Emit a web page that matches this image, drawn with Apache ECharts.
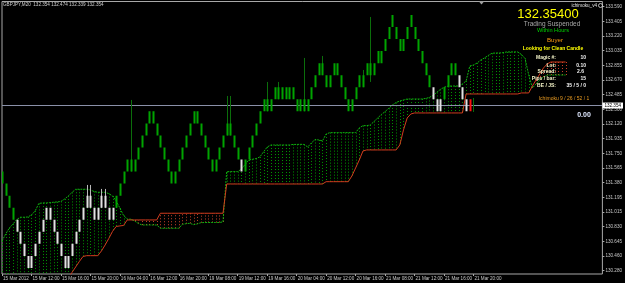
<!DOCTYPE html>
<html><head><meta charset="utf-8">
<script src="https://cdn.jsdelivr.net/npm/echarts@6/dist/echarts.min.js"></script>
<style>html,body{margin:0;padding:0;background:#000}#c{width:625px;height:283px}</style>
</head><body><div id="c"></div><script>
// ---- bar data (renko-style candles) ----
const open = [
131.371,131.220,131.069,130.917,130.917,130.766,130.615,130.464,130.464,130.615,
130.766,130.917,131.069,131.069,130.917,130.766,130.615,130.464,130.464,130.615,
130.766,130.917,131.069,131.220,131.220,131.069,131.069,131.220,131.220,131.069,
131.069,131.069,131.220,131.371,131.522,131.522,131.522,131.673,131.824,131.975,
132.126,132.126,131.975,131.824,131.673,131.522,131.371,131.371,131.522,131.673,
131.824,131.975,132.126,132.126,131.975,131.824,131.673,131.522,131.522,131.673,
131.824,131.975,131.975,131.824,131.673,131.673,131.522,131.673,131.824,131.975,
132.126,132.277,132.277,132.277,132.428,132.428,132.428,132.428,132.428,132.428,
132.277,132.277,132.277,132.277,132.428,132.580,132.731,132.731,132.580,132.580,
132.731,132.731,132.580,132.428,132.277,132.277,132.428,132.580,132.580,132.731,
132.731,132.731,132.882,132.882,133.033,133.184,133.335,133.184,133.033,133.033,
133.184,133.335,133.184,133.033,132.882,132.731,132.580,132.580,132.428,132.428,
132.428,132.580,132.731,132.731,132.731,132.580,132.428,132.428,132.354];
const close = [
131.522,131.371,131.220,131.069,130.766,130.615,130.464,130.313,130.313,130.464,
130.615,130.766,130.917,130.917,130.766,130.615,130.464,130.313,130.313,130.464,
130.615,130.766,130.917,131.069,131.069,130.917,130.917,131.069,131.069,130.917,
130.917,131.220,131.371,131.522,131.673,131.673,131.673,131.824,131.975,132.126,
132.277,132.277,132.126,131.975,131.824,131.673,131.522,131.522,131.673,131.824,
131.975,132.126,132.277,132.277,132.126,131.975,131.824,131.673,131.673,131.824,
131.975,132.126,132.126,131.975,131.824,131.522,131.673,131.824,131.975,132.126,
132.277,132.428,132.428,132.428,132.580,132.580,132.580,132.580,132.580,132.580,
132.428,132.428,132.428,132.428,132.580,132.731,132.882,132.882,132.731,132.731,
132.882,132.882,132.731,132.580,132.428,132.428,132.580,132.731,132.731,132.882,
132.882,132.882,133.033,133.033,133.184,133.335,133.486,133.335,133.184,133.184,
133.335,133.486,133.335,133.184,133.033,132.882,132.731,132.428,132.277,132.277,
132.580,132.731,132.882,132.882,132.580,132.428,132.277,132.277,132.354];
const high = [
null,null,null,null,null,null,null,null,null,null,
null,null,null,null,null,null,null,null,null,null,
null,null,null,131.354,131.354,null,null,131.304,131.304,null,
null,null,null,null,null,132.420,null,null,null,null,
null,null,null,null,null,null,null,null,null,null,
null,null,null,null,null,null,null,null,null,null,
null,132.470,132.470,null,null,null,null,null,null,null,
null,null,132.646,null,null,132.646,null,null,null,null,
null,null,132.947,null,null,null,null,132.972,null,null,
null,null,null,null,null,null,null,null,132.796,null,
133.461,null,null,null,null,null,null,null,null,null,
null,null,null,null,null,null,null,null,null,null,
null,null,null,null,null,null,null,null,132.445];
const low = [
null,null,null,null,null,null,null,null,null,null,
null,null,null,null,null,null,null,null,null,null,
null,null,null,null,null,null,null,null,null,null,
null,null,null,null,null,null,null,null,null,null,
null,null,null,null,null,null,null,null,null,null,
null,null,null,null,null,null,null,null,null,null,
null,null,null,null,null,null,null,null,null,null,
null,null,null,null,null,null,null,null,null,null,
null,null,null,null,null,null,null,null,null,null,
null,null,null,null,null,null,null,null,null,null,
132.646,null,null,null,null,null,null,null,null,null,
null,null,null,null,null,null,null,null,null,null,
null,null,null,null,null,null,null,null,132.269];
// g = green, w = white (inside cloud), r = red (current)
const barColor = [
'g','g','g','g','w','w','w','w','w','w',
'w','w','w','w','w','w','w','w','w','w',
'w','w','w','w','w','w','w','w','w','w',
'w','g','g','g','g','g','g','g','g','g',
'g','g','g','g','g','g','g','g','g','g',
'g','g','g','g','g','g','g','g','g','g',
'g','g','g','g','g','w','g','g','g','g',
'g','g','g','g','g','g','g','g','g','g',
'g','g','g','g','g','g','g','g','g','g',
'g','g','g','g','g','g','g','g','g','g',
'g','g','g','g','g','g','g','g','g','g',
'g','g','g','g','g','g','g','w','w','w',
'g','g','g','g','w','w','w','r','g'];
// ---- Ichimoku cloud (shifted 26 bars) ----
const spanA = [
130.651,130.739,130.814,130.865,130.921,130.949,130.949,130.952,130.978,131.028,
131.122,131.128,131.128,131.132,131.137,131.141,131.147,131.178,131.216,131.260,
131.300,131.300,131.300,131.300,131.291,131.272,131.262,131.262,131.262,131.245,
131.216,131.153,131.065,130.971,130.927,130.924,130.902,130.871,130.852,130.852,
130.852,130.852,130.852,130.811,130.811,130.811,130.811,130.811,130.811,130.861,
130.868,130.873,130.856,130.865,130.881,130.883,130.883,130.883,130.883,130.883,
130.890,131.521,131.521,131.521,131.521,131.554,131.611,131.667,131.676,131.685,
131.705,131.768,131.830,131.855,131.855,131.855,131.855,131.855,131.855,131.862,
131.862,131.864,131.862,131.830,131.881,131.924,131.918,131.906,131.993,132.010,
132.010,132.010,132.010,132.010,132.010,132.010,132.010,132.069,132.098,132.098,
132.106,132.150,132.194,132.238,132.273,132.316,132.357,132.388,132.407,132.420,
132.432,132.432,132.432,132.432,132.432,132.439,132.451,132.476,132.514,132.552,
132.579,132.592,132.595,132.595,132.595,132.621,132.658,132.846,132.859,132.884,
132.922,132.947,132.978,133.006,133.009,133.009,133.013,133.022,133.022,133.022,
133.022,132.991,132.940,132.733,132.570,132.621,132.671,132.708,132.733,132.733,
132.733,132.733,132.733,132.733];
const spanB = [
129.911,129.911,129.911,129.911,129.911,129.911,129.911,129.911,129.911,129.911,
129.911,129.911,129.911,129.911,129.911,129.911,129.911,130.125,130.187,130.256,
130.325,130.394,130.457,130.467,130.467,130.467,130.467,130.526,130.601,130.683,
130.771,130.833,130.840,130.846,130.915,130.915,130.915,130.915,130.915,130.915,
130.915,130.915,130.915,130.999,130.999,130.999,130.999,130.999,130.999,130.999,
130.999,130.999,130.999,130.999,130.999,130.999,130.999,130.999,130.999,130.999,
130.999,131.366,131.366,131.366,131.366,131.366,131.366,131.366,131.366,131.366,
131.366,131.366,131.366,131.366,131.366,131.366,131.366,131.366,131.366,131.366,
131.366,131.366,131.366,131.366,131.366,131.366,131.366,131.366,131.395,131.395,
131.395,131.395,131.395,131.395,131.395,131.467,131.567,131.667,131.780,131.793,
131.793,131.793,131.793,131.793,131.793,131.793,131.793,131.793,131.855,132.044,
132.194,132.244,132.257,132.257,132.257,132.257,132.257,132.257,132.257,132.257,
132.257,132.257,132.257,132.257,132.257,132.257,132.495,132.495,132.495,132.495,
132.495,132.495,132.495,132.495,132.495,132.495,132.495,132.495,132.495,132.495,
132.495,132.508,132.508,132.508,132.595,132.671,132.746,132.821,132.871,132.896,
132.896,132.896,132.896,132.896];
// ---- axes ----
const yTickValues = [133.590,133.406,133.222,133.038,132.854,132.670,132.486,132.302,132.118,131.934,
  131.750,131.566,131.382,131.198,131.014,130.830,130.646,130.462,130.278];
const yTickLabels = ['133.590','133.405','133.220','133.035','132.855','132.670','132.485','132.300','132.120','131.935',
  '131.750','131.565','131.380','131.195','131.015','130.830','130.645','130.460','130.280'];
const xTickIndex = [0,8,16,24,32,40,48,56,64,72,80,88,96,104,112,120,128];
const xTickLabels = ['15 Mar 2012','15 Mar 12:00','15 Mar 16:00','15 Mar 20:00','16 Mar 04:00','16 Mar 12:00',
  '16 Mar 20:00','19 Mar 08:00','19 Mar 12:00','19 Mar 16:00','20 Mar 04:00','20 Mar 12:00','20 Mar 16:00',
  '21 Mar 08:00','21 Mar 12:00','21 Mar 16:00','21 Mar 20:00'];
const slotCount = 164;
const currentPrice = 132.354;
const yMin = 130.237, yMax = 133.655;

const FONT = 'Liberation Sans';
const bodyColors = {g:'#00a400', w:'#e2e2e2', r:'#ff1010'};
const wickColors = {g:'#0b6e0b', w:'#b8b8b8', r:'#ff1010'};

const categories = [];
for (let i = 0; i < slotCount; i++) categories.push(String(i));

const candleData = open.map((o, i) => {
  const c = close[i];
  const hi = high[i] != null ? high[i] : Math.max(o, c);
  const lo = low[i] != null ? low[i] : Math.min(o, c);
  return [i, o, c, lo, hi];
});
const hatchData = spanA.map((a, i) => [i, a, spanB[i]]);

function renderCandle(params, api) {
  const i = api.value(0), o = api.value(1), c = api.value(2), lo = api.value(3), hi = api.value(4);
  const key = barColor[params.dataIndex];
  const top = api.coord([i, Math.max(o, c)]);
  const bot = api.coord([i, Math.min(o, c)]);
  const x = Math.round(top[0]);
  const children = [];
  if (hi > Math.max(o, c) + 1e-9 || lo < Math.min(o, c) - 1e-9) {
    const ph = api.coord([i, hi]), pl = api.coord([i, lo]);
    children.push({type:'line', shape:{x1:x + 0.5, y1:ph[1], x2:x + 0.5, y2:pl[1]},
      style:{stroke:wickColors[key], lineWidth:1}});
  }
  const h = bot[1] - top[1];
  if (h > 0.5) children.push({type:'rect', shape:{x:x - 0.5, y:top[1], width:2, height:h},
    style:{fill:bodyColors[key]}});
  return {type:'group', children};
}
function renderHatch(params, api) {
  const i = api.value(0), a = api.value(1), b = api.value(2);
  const cs = params.coordSys;
  const pa = api.coord([i, a]), pb = api.coord([i, b]);
  const clamp = v => Math.max(cs.y, Math.min(cs.y + cs.height, v));
  const x = Math.round(pa[0]) + 0.5;
  return {type:'line', shape:{x1:x, y1:clamp(pa[1]), x2:x, y2:clamp(pb[1])},
    style:{stroke: a >= b ? '#009400' : '#c8402a', lineWidth:1, lineDash:[1, 2]}};
}

const chart = echarts.init(document.getElementById('c'), null, {renderer:'canvas'});
chart.setOption({
  backgroundColor:'#000',
  animation:false,
  grid:{left:1, right:20, top:1.5, bottom:9, show:true, borderColor:'#a8a8a8', borderWidth:1, backgroundColor:'transparent'},
  xAxis:{type:'category', data:categories, boundaryGap:false,
    axisLine:{show:false},
    axisTick:{show:true, length:2, interval:(idx) => xTickIndex.includes(idx), lineStyle:{color:'#a8a8a8'}},
    axisLabel:{show:true, interval:(idx) => xTickIndex.includes(idx), align:'left', margin:2,
      padding:[0,0,0,1], color:'#c8c8c8', fontSize:4.6, fontFamily:FONT,
      formatter:(v, idx) => { const k = xTickIndex.indexOf(idx); return k >= 0 ? xTickLabels[k] : ''; }},
    splitLine:{show:false}},
  yAxis:{type:'value', position:'right', min:yMin, max:yMax, scale:true,
    axisLine:{show:false},
    axisTick:{show:true, length:2, customValues:yTickValues, lineStyle:{color:'#a8a8a8'}},
    axisLabel:{show:true, customValues:yTickValues, margin:3, color:'#c8c8c8', fontSize:4.6, fontFamily:FONT,
      formatter:(v) => { const k = yTickValues.findIndex(t => Math.abs(t - v) < 1e-6); return k >= 0 ? yTickLabels[k] : ''; }},
    splitLine:{show:false}},
  series:[
    {type:'custom', name:'cloud', renderItem:renderHatch, data:hatchData, clip:true, z:1, silent:true,
      encode:{x:0, y:[1,2]}},
    {type:'line', name:'Senkou A', data:spanA, showSymbol:false, symbol:'none', z:2, silent:true,
      lineStyle:{color:'#10b010', width:1, type:[2,1]}},
    {type:'line', name:'Senkou B', data:spanB, showSymbol:false, symbol:'none', z:2, silent:true,
      lineStyle:{color:'#d23c1e', width:1},
      markLine:{silent:true, symbol:'none', z:3,
        lineStyle:{color:'#8a90a8', width:1, type:'solid'},
        label:{show:true, position:'end', distance:0, formatter:currentPrice.toFixed(3), color:'#000',
          backgroundColor:'#fff', fontSize:4.6, fontFamily:FONT, padding:[1,2,0,2]},
        data:[{yAxis:currentPrice}]}},
    {type:'custom', name:'bars', renderItem:renderCandle, data:candleData, clip:true, z:4, silent:true,
      encode:{x:0, y:[1,2,3,4]}}
  ],
  graphic:[
    {type:'text', x:3, y:5, z:100, style:{text:'GBPJPY,M20  132.354 132.474 132.339 132.354', fill:'#d0d0d0', font:'4.6px ' + FONT, verticalAlign:'middle'}},
    {type:'polygon', z:100, shape:{points:[[478.5,1],[484.5,1],[481.5,4.5]]}, style:{fill:'#a0a0a0'}},
    {type:'text', x:597, y:5.5, z:100, style:{text:'ichimoku_v4', fill:'#e0e0e0', font:'4.6px ' + FONT, align:'right', verticalAlign:'middle'}},
    {type:'circle', z:100, shape:{cx:600.5, cy:5.5, r:2}, style:{fill:'none', stroke:'#e0e0e0', lineWidth:0.8}},
    {type:'text', x:548, y:14.5, z:100, style:{text:'132.35400', fill:'#ffff00', font:'13px ' + FONT, align:'center', verticalAlign:'middle'}},
    {type:'text', x:552, y:24.3, z:100, style:{text:'Trading Suspended', fill:'#a8a8a8', font:'6.5px ' + FONT, align:'center', verticalAlign:'middle'}},
    {type:'text', x:553, y:30.8, z:100, style:{text:'Within Hours', fill:'#00d000', font:'5.6px ' + FONT, align:'center', verticalAlign:'middle'}},
    {type:'text', x:555, y:40, z:100, style:{text:'Buyer', fill:'#ff9a10', font:'6.2px ' + FONT, align:'center', verticalAlign:'middle'}},
    {type:'text', x:553, y:48.7, z:100, style:{text:'Looking for Clean Candle', fill:'#ffff00', font:'bold 5px ' + FONT, align:'center', verticalAlign:'middle'}},
    {type:'text', x:556, y:57.7, z:100, style:{text:'Magic #:', fill:'#f4f4c8', font:'bold 5px ' + FONT, align:'right', verticalAlign:'middle'}},
    {type:'text', x:556, y:65.3, z:100, style:{text:'Lot:', fill:'#f4f4c8', font:'bold 5px ' + FONT, align:'right', verticalAlign:'middle'}},
    {type:'text', x:556, y:71.7, z:100, style:{text:'Spread:', fill:'#f4f4c8', font:'bold 5px ' + FONT, align:'right', verticalAlign:'middle'}},
    {type:'text', x:556, y:79, z:100, style:{text:'Pips / bar:', fill:'#f4f4c8', font:'bold 5px ' + FONT, align:'right', verticalAlign:'middle'}},
    {type:'text', x:556, y:86, z:100, style:{text:'BE / JS:', fill:'#f4f4c8', font:'bold 5px ' + FONT, align:'right', verticalAlign:'middle'}},
    {type:'text', x:586, y:57.7, z:100, style:{text:'10', fill:'#f4f4f4', font:'bold 5px ' + FONT, align:'right', verticalAlign:'middle'}},
    {type:'text', x:586, y:65.3, z:100, style:{text:'0.10', fill:'#f4f4f4', font:'bold 5px ' + FONT, align:'right', verticalAlign:'middle'}},
    {type:'text', x:584, y:71.7, z:100, style:{text:'2.6', fill:'#f4f4f4', font:'bold 5px ' + FONT, align:'right', verticalAlign:'middle'}},
    {type:'text', x:586, y:79, z:100, style:{text:'15', fill:'#f4f4f4', font:'bold 5px ' + FONT, align:'right', verticalAlign:'middle'}},
    {type:'text', x:586, y:86, z:100, style:{text:'35 / 5 / 0', fill:'#f4f4f4', font:'bold 5px ' + FONT, align:'right', verticalAlign:'middle'}},
    {type:'text', x:564, y:99, z:100, style:{text:'Ichimoku 9 / 26 / 52 / 1', fill:'#e89a20', font:'5px ' + FONT, align:'center', verticalAlign:'middle'}},
    {type:'text', x:584, y:115, z:100, style:{text:'0.00', fill:'#dfe8ff', font:'bold 7px ' + FONT, align:'center', verticalAlign:'middle'}}
  ]
});
</script></body></html>
